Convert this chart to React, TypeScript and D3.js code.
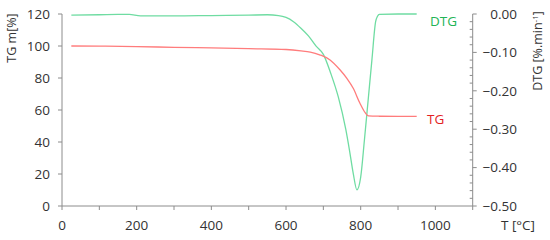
import { useMemo } from 'react';
import * as d3 from 'd3';

const tgTemp = [25, 100, 200, 300, 400, 500, 600, 640, 665, 690, 718, 745, 763, 780, 798, 812, 821, 850, 900, 950];
const tgMass = [100, 99.9, 99.6, 99.2, 98.8, 98.3, 97.8, 97.0, 96.2, 94.5, 91.3, 85.0, 79.8, 73.6, 64.2, 58.3, 56.3, 56.1, 56.0, 56.0];

const dtgTemp = [25, 100, 150, 180, 210, 300, 400, 500, 550, 580, 600, 620, 640, 660, 680, 700, 720, 740, 760, 770, 780, 790, 800, 810, 820, 830, 840, 845, 850, 900, 950];
const dtgRate = [-0.003, -0.002, -0.001, -0.001, -0.005, -0.005, -0.004, -0.003, -0.002, -0.004, -0.009, -0.02, -0.037, -0.057, -0.083, -0.105, -0.155, -0.216, -0.3, -0.355, -0.415, -0.458, -0.425, -0.328, -0.224, -0.12, -0.02, -0.006, -0.001, 0, 0];

const xTicks = [0, 200, 400, 600, 800, 1000];
const leftTicks = [0, 20, 40, 60, 80, 100, 120];
const rightTicks = [0, -0.1, -0.2, -0.3, -0.4, -0.5];

const FONT = '"Open Sans", sans-serif';
const AXIS = '#8c8c8c';
const TEXT = '#333333';

export default function App() {
  const width = 550;
  const height = 240;
  const m = { left: 62, right: 472.7, top: 14, bottom: 206 };

  const x = d3.scaleLinear().domain([0, 1100]).range([m.left, m.right]);
  const yL = d3.scaleLinear().domain([0, 120]).range([m.bottom, m.top]);
  const yR = d3.scaleLinear().domain([-0.5, 0]).range([m.bottom, m.top]);

  const tgPath = useMemo(() => {
    const line = d3
      .line<number>()
      .x((_, i) => x(tgTemp[i]))
      .y((v) => yL(v))
      .curve(d3.curveMonotoneX);
    return line(tgMass) || '';
  }, []);

  const dtgPath = useMemo(() => {
    const line = d3
      .line<number>()
      .x((_, i) => x(dtgTemp[i]))
      .y((v) => yR(v))
      .curve(d3.curveMonotoneX);
    return line(dtgRate) || '';
  }, []);

  const minorX = d3.range(0, 1101, 100);
  const minorR = d3.range(0, 26).map((i) => -i * 0.02);

  return (
    <svg
      width={width}
      height={height}
      style={{ position: 'absolute', left: 0, top: 0, background: '#fff' }}
      fontFamily={FONT}
    >
      {/* left axis */}
      <line x1={m.left} x2={m.left} y1={m.top} y2={m.bottom} stroke={AXIS} />
      {leftTicks.map((t) => (
        <g key={t}>
          <line x1={m.left - 4} x2={m.left} y1={yL(t)} y2={yL(t)} stroke={AXIS} />
          <text x={50} y={yL(t)} dy="0.35em" textAnchor="end" fontSize={13.5} fill={TEXT}>
            {t}
          </text>
        </g>
      ))}
      <text transform={`translate(16,38) rotate(-90)`} textAnchor="middle" fontSize={12.5} fill={TEXT}>
        TG m[%]
      </text>

      {/* bottom axis */}
      <line x1={m.left} x2={m.right} y1={m.bottom} y2={m.bottom} stroke={AXIS} />
      {minorX.map((t) => (
        <line key={t} x1={x(t)} x2={x(t)} y1={m.bottom} y2={m.bottom + 4} stroke={AXIS} />
      ))}
      {xTicks.map((t) => (
        <text key={t} x={x(t)} y={230} textAnchor="middle" fontSize={13.5} fill={TEXT}>
          {t}
        </text>
      ))}
      <text x={518} y={230} textAnchor="middle" fontSize={13.5} fill={TEXT}>
        T [°C]
      </text>

      {/* right axis */}
      <line x1={m.right} x2={m.right} y1={m.top} y2={m.bottom} stroke={AXIS} />
      {minorR.map((t, i) =>
        i % 5 === 0 ? (
          <line key={i} x1={m.right} x2={m.right + 4} y1={yR(t)} y2={yR(t)} stroke={AXIS} />
        ) : (
          <line key={i} x1={m.right - 3} x2={m.right} y1={yR(t)} y2={yR(t)} stroke={AXIS} />
        )
      )}
      {rightTicks.map((t) => (
        <text key={t} x={517} y={yR(t)} dy="0.35em" textAnchor="end" fontSize={13.5} fill={TEXT}>
          {t === 0 ? '0.00' : '−' + Math.abs(t).toFixed(2)}
        </text>
      ))}
      <text transform={`translate(542,51) rotate(-90)`} textAnchor="middle" fontSize={12.5} fill={TEXT}>
        DTG [%.min
        <tspan dy={-4} fontSize={8}>
          -1
        </tspan>
        <tspan dy={4}>]</tspan>
      </text>

      {/* series */}
      <path d={dtgPath} fill="none" stroke="#6fdca2" strokeWidth={1.3} />
      <path d={tgPath} fill="none" stroke="#ff7c7c" strokeWidth={1.3} />

      <text x={430} y={26} fontSize={13.5} fill="#22b455">
        DTG
      </text>
      <text x={427} y={124} fontSize={13.5} fill="#e31e24">
        TG
      </text>
    </svg>
  );
}
